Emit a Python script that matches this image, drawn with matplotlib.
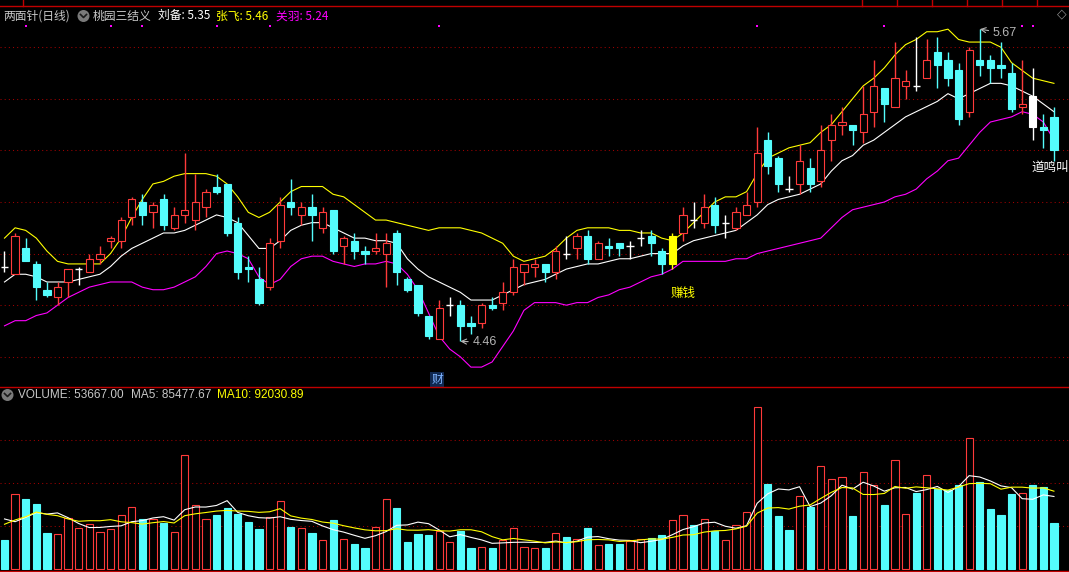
import matplotlib
matplotlib.use('Agg')
import matplotlib.pyplot as plt
from matplotlib.patches import Rectangle, Ellipse
from matplotlib.lines import Line2D
import matplotlib.transforms as mtransforms
import numpy as np
import pandas as pd

plt.rcParams['font.family'] = ['Noto Sans CJK SC', 'DejaVu Sans']

# ---------------- data ----------------
open_ = [4.75, 4.72, 4.82, 4.76, 4.66, 4.63, 4.69, 4.74, 4.73, 4.78,
         4.85, 4.85, 4.94, 5.00, 4.96, 5.01, 4.90, 4.95, 4.93, 4.98,
         5.06, 5.07, 4.92, 4.75, 4.70, 4.67, 4.85, 5.00, 4.95, 4.98,
         4.90, 4.97, 4.83, 4.85, 4.81, 4.81, 4.80, 4.88, 4.70, 4.68,
         4.56, 4.47, 4.60, 4.60, 4.53, 4.53, 4.60, 4.61, 4.65, 4.73,
         4.75, 4.76, 4.73, 4.80, 4.82, 4.87, 4.78, 4.83, 4.84, 4.83,
         4.86, 4.87, 4.81, 4.76, 4.88, 4.93, 4.92, 4.99, 4.92, 4.90,
         4.95, 5.00, 5.24, 5.17, 5.05, 5.07, 5.13, 5.08, 5.24, 5.30,
         5.30, 5.27, 5.35, 5.44, 5.37, 5.45, 5.45, 5.48, 5.58, 5.55,
         5.51, 5.35, 5.55, 5.55, 5.53, 5.50, 5.37, 5.41, 5.29, 5.33]
high = [4.81, 4.88, 4.86, 4.77, 4.69, 4.69, 4.74, 4.75, 4.80, 4.83,
        4.87, 4.94, 5.02, 5.03, 5.00, 5.03, 4.98, 5.19, 5.11, 5.05,
        5.11, 5.07, 4.94, 4.79, 4.75, 4.86, 5.02, 5.09, 5.00, 5.03,
        4.98, 4.97, 4.87, 4.88, 4.83, 4.88, 4.88, 4.89, 4.71, 4.68,
        4.56, 4.62, 4.63, 4.62, 4.56, 4.61, 4.63, 4.69, 4.78, 4.76,
        4.78, 4.76, 4.83, 4.87, 4.88, 4.89, 4.85, 4.86, 4.84, 4.85,
        4.89, 4.89, 4.82, 4.88, 4.98, 5.00, 5.03, 5.02, 4.95, 4.98,
        5.04, 5.29, 5.27, 5.18, 5.10, 5.22, 5.17, 5.30, 5.34, 5.37,
        5.30, 5.45, 5.55, 5.44, 5.62, 5.51, 5.64, 5.63, 5.64, 5.58,
        5.54, 5.60, 5.67, 5.57, 5.62, 5.54, 5.55, 5.52, 5.34, 5.37]
low = [4.73, 4.72, 4.77, 4.62, 4.63, 4.60, 4.63, 4.68, 4.73, 4.76,
       4.82, 4.82, 4.91, 4.91, 4.90, 4.89, 4.89, 4.92, 4.89, 4.94,
       5.03, 4.87, 4.70, 4.69, 4.60, 4.66, 4.82, 4.95, 4.91, 4.85,
       4.88, 4.80, 4.76, 4.78, 4.76, 4.80, 4.67, 4.68, 4.65, 4.56,
       4.47, 4.47, 4.56, 4.46, 4.49, 4.51, 4.58, 4.58, 4.64, 4.68,
       4.71, 4.69, 4.70, 4.78, 4.78, 4.76, 4.78, 4.79, 4.79, 4.78,
       4.83, 4.79, 4.72, 4.74, 4.85, 4.90, 4.90, 4.88, 4.86, 4.89,
       4.95, 4.98, 5.11, 5.04, 5.04, 5.03, 5.04, 5.06, 5.16, 5.26,
       5.22, 5.23, 5.29, 5.31, 5.37, 5.40, 5.43, 5.48, 5.44, 5.45,
       5.30, 5.33, 5.49, 5.46, 5.48, 5.35, 5.34, 5.24, 5.21, 5.16]
close = [4.75, 4.87, 4.77, 4.67, 4.64, 4.67, 4.74, 4.74, 4.78, 4.80,
         4.86, 4.93, 5.01, 4.95, 4.99, 4.91, 4.95, 4.97, 5.00, 5.04,
         5.04, 4.88, 4.73, 4.74, 4.61, 4.84, 4.99, 4.98, 4.98, 4.95,
         4.96, 4.81, 4.86, 4.81, 4.80, 4.82, 4.84, 4.73, 4.66, 4.57,
         4.48, 4.59, 4.60, 4.52, 4.52, 4.60, 4.59, 4.65, 4.75, 4.76,
         4.76, 4.73, 4.81, 4.80, 4.87, 4.78, 4.84, 4.82, 4.82, 4.83,
         4.86, 4.84, 4.76, 4.87, 4.95, 4.93, 4.98, 4.91, 4.92, 4.96,
         4.99, 5.19, 5.14, 5.07, 5.05, 5.16, 5.07, 5.20, 5.30, 5.31,
         5.28, 5.34, 5.45, 5.38, 5.48, 5.47, 5.45, 5.55, 5.53, 5.48,
         5.32, 5.59, 5.53, 5.52, 5.52, 5.36, 5.38, 5.29, 5.28, 5.20]
prev_close = 4.76  # close of the session before the first visible candle
volume = [33800, 87200, 81700, 75900, 42000, 40500, 59200, 47800, 52200, 42800,
          46300, 62700, 72000, 58400, 58400, 53700, 42800, 132700, 74300, 58000,
          63000, 70800, 64200, 54800, 46700, 60300, 79000, 49000, 47800, 42000,
          33500, 57200, 34700, 29200, 24500, 48700, 81300, 71200, 31500, 40800,
          39700, 44700, 31200, 44300, 24500, 25300, 24500, 33800, 47500, 25300,
          24200, 24500, 41700, 37300, 34700, 47800, 27700, 29200, 29200, 32700,
          34700, 36200, 39700, 56800, 62700, 51300, 58000, 44000, 33500, 51000,
          66200, 188700, 99200, 61900, 45500, 84800, 72700, 119900, 104700, 107000,
          61900, 112800, 97700, 74700, 126900, 63800, 88700, 109300, 93000, 91800,
          98000, 152500, 101500, 70000, 63000, 87500, 88300, 98000, 95700, 53667]
# indicator lines (桃园三结义)
liubei = [4.69, 4.72, 4.72, 4.71, 4.69, 4.69, 4.69, 4.70, 4.71, 4.72,
          4.75, 4.79, 4.82, 4.84, 4.86, 4.88, 4.88, 4.89, 4.91, 4.93,
          4.95, 4.94, 4.92, 4.87, 4.82, 4.82, 4.85, 4.89, 4.91, 4.92,
          4.92, 4.90, 4.88, 4.86, 4.86, 4.85, 4.85, 4.84, 4.78, 4.74,
          4.71, 4.69, 4.67, 4.65, 4.62, 4.62, 4.62, 4.64, 4.66, 4.68,
          4.69, 4.70, 4.72, 4.74, 4.75, 4.76, 4.76, 4.77, 4.78, 4.78,
          4.79, 4.80, 4.80, 4.80, 4.83, 4.85, 4.86, 4.87, 4.88, 4.89,
          4.92, 4.95, 4.99, 5.01, 5.02, 5.03, 5.05, 5.07, 5.12, 5.16,
          5.18, 5.22, 5.24, 5.27, 5.30, 5.33, 5.35, 5.37, 5.39, 5.42,
          5.40, 5.42, 5.44, 5.46, 5.46, 5.45, 5.43, 5.41, 5.38, 5.35]
zhangfei = [4.86, 4.90, 4.89, 4.86, 4.81, 4.77, 4.76, 4.76, 4.76, 4.76,
            4.80, 4.86, 4.94, 5.01, 5.07, 5.08, 5.10, 5.11, 5.11, 5.11,
            5.10, 5.07, 5.02, 4.96, 4.94, 4.96, 5.00, 5.04, 5.06, 5.06,
            5.06, 5.03, 5.02, 4.99, 4.96, 4.93, 4.93, 4.92, 4.91, 4.90,
            4.89, 4.90, 4.90, 4.90, 4.89, 4.88, 4.86, 4.84, 4.79, 4.77,
            4.78, 4.79, 4.82, 4.86, 4.89, 4.90, 4.90, 4.90, 4.89, 4.89,
            4.88, 4.88, 4.86, 4.85, 4.88, 4.92, 4.96, 5.00, 5.02, 5.02,
            5.04, 5.11, 5.17, 5.19, 5.21, 5.22, 5.23, 5.27, 5.30, 5.35,
            5.40, 5.45, 5.48, 5.52, 5.57, 5.61, 5.63, 5.66, 5.66, 5.67,
            5.63, 5.62, 5.62, 5.62, 5.60, 5.54, 5.51, 5.48, 5.47, 5.46]
guanyu = [4.52, 4.54, 4.54, 4.56, 4.57, 4.60, 4.63, 4.65, 4.67, 4.68,
          4.69, 4.69, 4.69, 4.67, 4.66, 4.66, 4.67, 4.69, 4.71, 4.75,
          4.80, 4.81, 4.80, 4.78, 4.71, 4.68, 4.70, 4.75, 4.78, 4.79,
          4.79, 4.77, 4.76, 4.75, 4.76, 4.76, 4.77, 4.76, 4.72, 4.66,
          4.57, 4.48, 4.43, 4.40, 4.36, 4.36, 4.38, 4.44, 4.50, 4.58,
          4.61, 4.61, 4.61, 4.60, 4.61, 4.61, 4.63, 4.64, 4.66, 4.67,
          4.69, 4.71, 4.72, 4.74, 4.77, 4.77, 4.77, 4.77, 4.77, 4.78,
          4.78, 4.80, 4.81, 4.82, 4.83, 4.84, 4.85, 4.86, 4.90, 4.94,
          4.97, 4.98, 4.99, 5.00, 5.02, 5.03, 5.05, 5.09, 5.12, 5.16,
          5.17, 5.22, 5.27, 5.31, 5.32, 5.33, 5.35, 5.34, 5.31, 5.24]
# volume MA values before the windows are full (from earlier history)
ma5_head = [58400, 55200, 60300, 65700]
ma10_head = [52200, 57200, 61000, 66500, 63800, 62200, 58400, 55700, 56400]
price_grid = [4.4, 4.6, 4.8, 5.0, 5.2, 5.4, 5.6]
vol_grid = [50000, 100000, 150000]
signal_dots = [2, 10, 13, 20, 25, 41, 71, 83, 96, 97]
zhuanqian_idx = 63   # 赚钱
mingjiao_idx = 97    # 道鸣叫
cai_idx = 41         # 财
hdr_liubei, hdr_zhangfei, hdr_guanyu = 5.35, 5.46, 5.24
vol_last, ma5_last, ma10_last = 53667.00, 85477.67, 92030.89

# ---------------- style ----------------
RED = '#FF3A3A'
CYAN = '#54FCFC'
YEL = '#FFFF00'
MAG = '#FF00FF'
WHITE = '#FFFFFF'
GRID = '#A00000'
GREY = '#C8C8C8'
BW = 0.68
LW = 0.8

W, H = 1069, 572
fig = plt.figure(figsize=(W / 100, H / 100), dpi=100, facecolor='black')


def F(xp, yp):
    return (xp / W, 1 - yp / H)


axm = fig.add_axes([0, 1 - 386 / H, 1, (386 - 7) / H])
axv = fig.add_axes([0, 1 - 570 / H, 1, (570 - 388) / H])
for ax in (axm, axv):
    ax.set_facecolor('black')
    ax.set_xlim(-0.4245, 100.42)
    ax.axis('off')
axm.set_ylim(4.2868, 5.7559)
axv.set_ylim(-1167, 211227)

for g in price_grid:
    axm.axhline(g, color=GRID, lw=0.75, ls=(0, (1, 3)), zorder=0)
for g in vol_grid:
    axv.axhline(g, color=GRID, lw=0.75, ls=(0, (1, 3)), zorder=0)

n = len(close)
x = np.arange(n)

# indicator lines
axm.plot(x, zhangfei, color=YEL, lw=LW, zorder=2)
axm.plot(x, liubei, color=WHITE, lw=LW, zorder=2)
axm.plot(x, guanyu, color=MAG, lw=LW, zorder=2)

special = {zhuanqian_idx: YEL, mingjiao_idx: WHITE}
for i in range(n):
    o, h, l, c = open_[i], high[i], low[i], close[i]
    if i in special:
        col = special[i]
        axm.vlines(i, l, h, color=col, lw=1, zorder=3)
        axm.add_patch(Rectangle((i - BW / 2, min(o, c)), BW, abs(c - o), fc=col, ec=col, lw=LW, zorder=4))
    elif o == c:
        axm.vlines(i, l, h, color=WHITE, lw=1, zorder=3)
        axm.hlines(o, i - BW / 2, i + BW / 2, color=WHITE, lw=1, zorder=3)
    elif c > o:
        axm.vlines(i, c, h, color=RED, lw=1, zorder=3)
        axm.vlines(i, l, o, color=RED, lw=1, zorder=3)
        axm.add_patch(Rectangle((i - BW / 2, o), BW, c - o, fc='black', ec=RED, lw=LW, zorder=4))
    else:
        axm.vlines(i, l, h, color=CYAN, lw=1, zorder=3)
        axm.add_patch(Rectangle((i - BW / 2, c), BW, o - c, fc=CYAN, ec=CYAN, lw=LW, zorder=4))

# signal dots at the top
trans_top = mtransforms.blended_transform_factory(axm.transData, axm.transAxes)
axm.scatter(signal_dots, [0.95] * len(signal_dots), transform=trans_top, marker='s', s=2.5,
            color=MAG, linewidths=0, zorder=5)

# extreme labels
imin = int(np.argmin(low))
imax = int(np.argmax(high))
axm.annotate(f'{low[imin]:.2f}', xy=(imin, low[imin]), xytext=(12, -1), textcoords='offset pixels',
             color='#B4B4B4', fontsize=9, family='Liberation Sans', va='center', ha='left',
             arrowprops=dict(arrowstyle='->', color='#B4B4B4', lw=0.8, shrinkA=1, shrinkB=0))
axm.annotate(f'{high[imax]:.2f}', xy=(imax, high[imax]), xytext=(13, -4), textcoords='offset pixels',
             color='#B4B4B4', fontsize=9, family='Liberation Sans', va='center', ha='left',
             arrowprops=dict(arrowstyle='->', color='#B4B4B4', lw=0.8, shrinkA=1, shrinkB=0))

# signal texts
axm.annotate('赚钱', xy=(zhuanqian_idx, low[zhuanqian_idx]), xytext=(11, -24), textcoords='offset pixels',
             color=YEL, fontsize=9, ha='center', va='center')
axm.annotate('道鸣叫', xy=(mingjiao_idx, low[mingjiao_idx]), xytext=(-1, -27), textcoords='offset pixels',
             color=WHITE, fontsize=9, ha='left', va='center', annotation_clip=False)
trans_bot = mtransforms.blended_transform_factory(axm.transData, axm.transAxes)
axm.text(cai_idx - 0.2, 0.016, '财', transform=trans_bot, color='#7FB4FF', fontsize=8.5,
         ha='center', va='center', bbox=dict(boxstyle='square,pad=0.1', fc='#102850', ec='none'))

# volume bars: up when close > open; doji compares with previous close
up = []
for i in range(n):
    pc = prev_close if i == 0 else close[i - 1]
    if close[i] > open_[i]:
        up.append(True)
    elif close[i] < open_[i]:
        up.append(False)
    else:
        up.append(close[i] >= pc)
faces = ['black' if u else CYAN for u in up]
edges = [RED if u else CYAN for u in up]
axv.bar(x, volume, width=BW, color=faces, edgecolor=edges, linewidth=LW, zorder=2)

vs = pd.Series(volume, dtype=float)
ma5 = vs.rolling(5).mean().to_numpy()
ma10 = vs.rolling(10).mean().to_numpy()
ma5[:len(ma5_head)] = ma5_head
ma10[:len(ma10_head)] = ma10_head
axv.plot(x, ma5, color=WHITE, lw=LW, zorder=3)
axv.plot(x, ma10, color=YEL, lw=LW, zorder=3)

# ---------------- frame / headers ----------------
for yp, col in ((6, '#C00000'), (387, '#C00000'), (571, '#C00000')):
    fig.add_artist(Line2D([0, 1], [F(0, yp)[1]] * 2, transform=fig.transFigure, color=col, lw=1))
fig.add_artist(Line2D([F(23, 0)[0]] * 2, [F(0, 0)[1], F(0, 6)[1]], transform=fig.transFigure, color='#C00000', lw=1))
for xs in (862, 897, 932, 967, 1002, 1037):
    fig.add_artist(Line2D([F(xs, 0)[0]] * 2, [F(0, 0)[1], F(0, 6)[1]], transform=fig.transFigure, color='#C00000', lw=1))


def chevron(cx, cy, r=6):
    fig.add_artist(Ellipse(F(cx, cy), 2 * r / W, 2 * r / H, transform=fig.transFigure, fc='#7A7A7A', ec='none'))
    xs = [cx - 3, cx, cx + 3]
    ys = [cy - 1.5, cy + 1.5, cy - 1.5]
    fig.add_artist(Line2D([xx / W for xx in xs], [1 - yy / H for yy in ys], transform=fig.transFigure,
                          color='#1A1A1A', lw=1.2))


hy = 16
fig.text(*F(3, hy), '两面针(日线)', color=GREY, fontsize=8.5, va='center', ha='left')
chevron(83.5, hy)
fig.text(*F(93, hy), '桃园三结义', color=GREY, fontsize=8.5, va='center', ha='left')
fig.text(*F(158, hy), f'刘备: {hdr_liubei:.2f}', color=WHITE, fontsize=8.5, va='center', ha='left')
fig.text(*F(216, hy), f'张飞: {hdr_zhangfei:.2f}', color=YEL, fontsize=8.5, va='center', ha='left')
fig.text(*F(276, hy), f'关羽: {hdr_guanyu:.2f}', color=MAG, fontsize=8.5, va='center', ha='left')
fig.text(*F(1062, 14), '◇', color='#8C8C8C', fontsize=9, va='center', ha='center', family='DejaVu Sans')

vy = 395
chevron(7.5, vy)
fig.text(*F(18, vy), f'VOLUME: {vol_last:.2f}', color=GREY, fontsize=8.5, va='center', ha='left',
         family='Liberation Sans')
fig.text(*F(131, vy), f'MA5: {ma5_last:.2f}', color=GREY, fontsize=8.5, va='center', ha='left',
         family='Liberation Sans')
fig.text(*F(217, vy), f'MA10: {ma10_last:.2f}', color=YEL, fontsize=8.5, va='center', ha='left',
         family='Liberation Sans')

fig.savefig('out.png', dpi=100, facecolor='black')
